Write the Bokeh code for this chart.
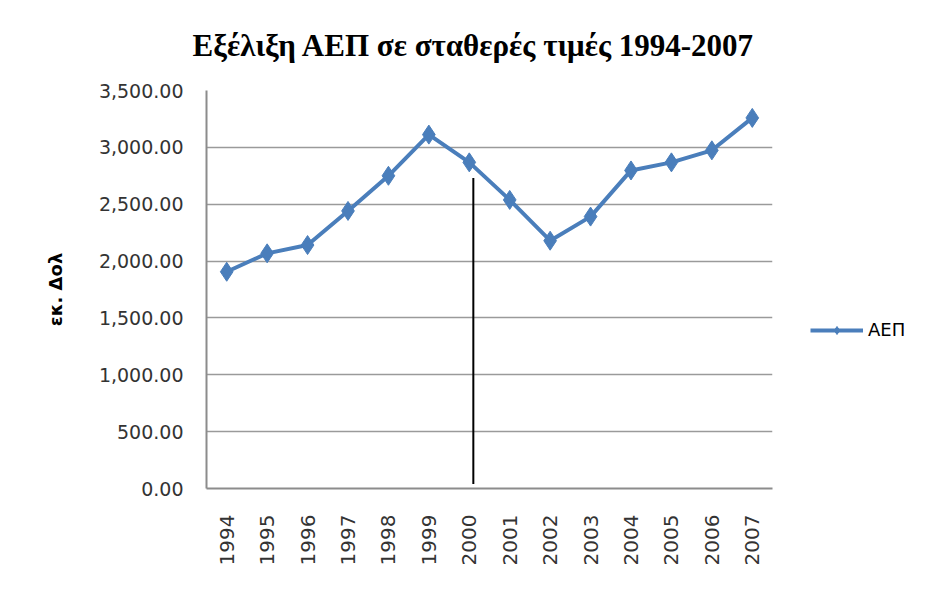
from bokeh.plotting import figure
from bokeh.models import (ColumnDataSource, Range1d, FactorRange, NumeralTickFormatter,
                          Legend, LegendItem, FixedTicker, Title)
from bokeh.embed import file_html
from bokeh.resources import INLINE
import math

years = ["1994", "1995", "1996", "1997", "1998", "1999", "2000",
         "2001", "2002", "2003", "2004", "2005", "2006", "2007"]
gdp = [1906, 2068, 2141, 2441, 2750, 3112, 2868,
       2538, 2179, 2391, 2797, 2868, 2974, 3259]
marker_year = ["2000"]
marker_offset = [0.1]
marker_bottom = [40]
marker_top = [2730]
y_ticks = [0, 500, 1000, 1500, 2000, 2500, 3000, 3500]

title_text = "Εξέλιξη ΑΕΠ σε σταθερές τιμές 1994-2007"
y_label = "εκ. Δολ"
series_name = "ΑΕΠ"

src = ColumnDataSource(data=dict(x=years, y=gdp))
vsrc = ColumnDataSource(data=dict(
    x=[(yr, off) for yr, off in zip(marker_year, marker_offset)],
    y0=marker_bottom, y1=marker_top))

p = figure(frame_width=566, frame_height=398, output_backend="svg", toolbar_location=None,
           x_range=FactorRange(*years), y_range=Range1d(0, 3500),
           min_border_left=206, min_border_right=137, min_border_top=90,
           min_border_bottom=82)
p.title = None

# spacer next to the frame first, then the real title above it
p.add_layout(Title(text=" ", text_font_size="19px", standoff=0), "above")
p.add_layout(Title(text=title_text, text_font="Liberation Serif",
                   text_font_style="bold", text_font_size="31px",
                   align="left", offset=-14, text_color="#000000"), "above")

p.outline_line_color = None
p.background_fill_color = "white"
p.border_fill_color = "white"

blue = "#4A7EBB"
line_r = p.line("x", "y", source=src, line_color=blue, line_width=4)
mark_r = p.scatter("x", "y", source=src, marker="diamond", size=19,
                   fill_color=blue, line_color=blue)
p.segment(x0="x", y0="y0", x1="x", y1="y1", source=vsrc,
          line_color="black", line_width=2)

# axes
p.yaxis.ticker = FixedTicker(ticks=y_ticks)
p.yaxis.formatter = NumeralTickFormatter(format="0,0.00")
p.yaxis.major_label_text_font = "DejaVu Sans"
p.yaxis.major_label_text_font_size = "19px"
p.yaxis.major_label_text_color = "#333333"
p.yaxis.major_tick_out = 0
p.yaxis.major_tick_in = 0
p.yaxis.minor_tick_out = 0
p.yaxis.minor_tick_in = 0
p.yaxis.major_label_standoff = 23
p.yaxis.axis_line_color = "#8c8c8c"
p.yaxis.axis_line_width = 2
p.yaxis.axis_label = y_label
p.yaxis.axis_label_text_font = "DejaVu Sans"
p.yaxis.axis_label_text_font_style = "bold"
p.yaxis.axis_label_text_font_size = "18px"
p.yaxis.axis_label_text_color = "#000000"
p.yaxis.axis_label_standoff = 30

p.xaxis.major_label_orientation = math.pi / 2
p.xaxis.major_label_text_font = "DejaVu Sans"
p.xaxis.major_label_text_font_size = "20px"
p.xaxis.major_label_text_color = "#333333"
p.xaxis.major_tick_out = 0
p.xaxis.major_tick_in = 0
p.xaxis.major_label_standoff = 26
p.xaxis.axis_line_color = "#8c8c8c"
p.xaxis.axis_line_width = 2

p.xgrid.grid_line_color = None
p.ygrid.grid_line_color = "#9a9a9a"
p.ygrid.grid_line_width = 1.5

legend = Legend(items=[LegendItem(label=series_name, renderers=[line_r, mark_r])],
                location=(38, 148), glyph_width=53, glyph_height=20,
                label_standoff=5, padding=0, margin=0,
                border_line_color=None, background_fill_alpha=0,
                label_text_font="DejaVu Sans", label_text_font_size="18px",
                label_text_color="#000000")
p.add_layout(legend, "right")

open("out.html", "w").write(file_html(p, INLINE))
